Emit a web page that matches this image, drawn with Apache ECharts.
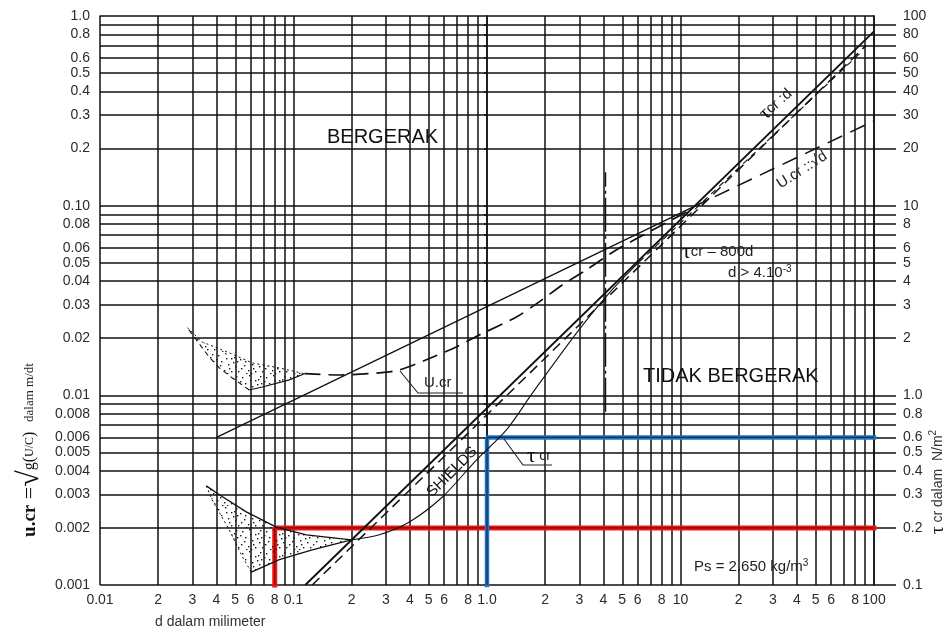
<!DOCTYPE html>
<html>
<head>
<meta charset="utf-8">
<script src="https://cdn.jsdelivr.net/npm/echarts@6/dist/echarts.min.js"></script>
<style>
  html, body { margin: 0; padding: 0; background: #fff; }
  #chart { width: 946px; height: 632px; }
</style>
</head>
<body>
<div id="chart"></div>
<script>
// Grain size d (mm) against critical velocity u.cr (m/s, left) and critical shear stress τcr (N/m², right).
// Both axes are logarithmic; values are kept in natural units and mapped to log10 for the value axes.

// ---- tick labels ----
const xTickValues = [0.01, 0.02, 0.03, 0.04, 0.05, 0.06, 0.08, 0.1, 0.2, 0.3, 0.4, 0.5, 0.6, 0.8,
                     1, 2, 3, 4, 5, 6, 8, 10, 20, 30, 40, 50, 60, 80, 100];
const xTickLabels = ['0.01', '2', '3', '4', '5', '6', '8', '0.1', '2', '3', '4', '5', '6', '8',
                     '1.0', '2', '3', '4', '5', '6', '8', '10', '2', '3', '4', '5', '6', '8', '100'];
const yTickValues = [0.001, 0.002, 0.003, 0.004, 0.005, 0.006, 0.008, 0.01, 0.02, 0.03, 0.04, 0.05,
                     0.06, 0.08, 0.1, 0.2, 0.3, 0.4, 0.5, 0.6, 0.8, 1];
const yLeftLabels = ['0.001', '0.002', '0.003', '0.004', '0.005', '0.006', '0.008', '0.01', '0.02',
                     '0.03', '0.04', '0.05', '0.06', '0.08', '0.10', '0.2', '0.3', '0.4', '0.5', '0.6', '0.8', '1.0'];
const yRightLabels = ['0.1', '0.2', '0.3', '0.4', '0.5', '0.6', '0.8', '1.0', '2', '3', '4', '5', '6',
                      '8', '10', '20', '30', '40', '50', '60', '80', '100'];

// ---- curves: [d (mm), u.cr (m/s)] ----
// τcr = 800 d
const tauLine = [[0.115, 0.001], [100, 0.83]];
// dashed companion of the τcr line
const tauDashed = [[0.125, 0.001], [91, 0.7]];
// Shields curve
const shieldsCurve = [[0.199, 0.00173], [0.278, 0.00184], [0.397, 0.00215], [0.588, 0.00291],
                      [0.881, 0.00456], [1.26, 0.00657], [1.72, 0.0103], [2.9, 0.0213],
                      [4.29, 0.0347], [6.12, 0.0505]];
const shieldsUpper = [[6.12, 0.0505], [86, 0.646]];
// U.cr :: √d
const sqrtLine = [[0.04, 0.006], [11.5, 0.098]];
const sqrtDashed = [[11.5, 0.098], [100, 0.28]];
// U.cr curve
const ucrCurve = [[0.114, 0.0130], [0.1725, 0.0128], [0.268, 0.0131], [0.352, 0.0136], [0.486, 0.0154],
                  [0.694, 0.018], [0.912, 0.0208], [1.42, 0.0259], [1.86, 0.0311], [2.45, 0.0382],
                  [3.26, 0.0458], [4.65, 0.0584], [6.89, 0.0727], [10.7, 0.0927], [11.5, 0.098]];
// limit d > 4.10^-3 m
const dLimit = [[4.1, 0.0082], [4.1, 0.15]];
// scatter bands (outline vertices)
const ucrBand = [[0.0283, 0.0227], [0.0338, 0.0191], [0.0466, 0.01675], [0.0612, 0.01482], [0.0845, 0.01394],
                 [0.114, 0.0130], [0.0951, 0.01206], [0.069, 0.01107], [0.0591, 0.01067], [0.0483, 0.01235],
                 [0.0414, 0.01394], [0.0367, 0.0159]];
const tauBand = [[0.0354, 0.00333], [0.0414, 0.00299], [0.057, 0.00243], [0.0815, 0.00202], [0.1164, 0.00184],
                 [0.199, 0.00173], [0.125, 0.00153], [0.0845, 0.00136], [0.0605, 0.00117], [0.0544, 0.00141],
                 [0.0466, 0.00195], [0.038, 0.00281]];
// worked readings
const redReading = [[0.08, 0.001], [0.08, 0.002], [100, 0.002]];
const blueReading = [[1.0, 0.001], [1.0, 0.006], [100, 0.006]];

// ---- helpers ----
const L = Math.log10;
const toLog = p => [L(p[0]), L(p[1])];
function decadeLines(fromExp, toExp) {
  const out = [];
  for (let e = fromExp; e < toExp; e++) for (let k = 1; k < 10; k++) out.push(L(k) + e);
  return out;
}
const xGrid = decadeLines(-2, 2).concat([2]);
const yGrid = decadeLines(-3, 0);
function labelFor(values, texts) {
  return v => {
    for (let i = 0; i < values.length; i++) if (Math.abs(L(values[i]) - v) < 1e-6) return texts[i];
    return '';
  };
}

const INK = '#111';
const SANS = '"Liberation Sans", Arial, sans-serif';
const SERIF = '"Liberation Serif", "Times New Roman", serif';

// dotted texture for the scatter bands
function stipple() {
  const c = document.createElement('canvas');
  c.width = 24; c.height = 22;
  const g = c.getContext('2d');
  g.fillStyle = '#1a1a1a';
  const dots = [[2, 3], [9, 1], [15, 6], [20, 2], [5, 9], [12, 12], [19, 14], [1, 16], [8, 18], [15, 19],
                [21, 9], [10, 6], [4, 13], [17, 10], [13, 16], [22, 19], [6, 21], [0, 7], [18, 5], [11, 21]];
  dots.forEach(([x, y]) => g.fillRect(x, y, 1.4, 1.4));
  return c;
}
const dotFill = { image: stipple(), repeat: 'repeat' };

function line(pts, opt) {
  return {
    type: 'line', data: pts.map(toLog), symbol: 'none', silent: true,
    smooth: opt.smooth || false, z: opt.z || 4, clip: opt.clip !== false,
    lineStyle: { color: opt.color || INK, width: opt.width || 1.3, type: opt.type || 'solid', cap: opt.cap || 'butt' }
  };
}
function band(pts) {
  return {
    type: 'custom', coordinateSystem: 'cartesian2d', silent: true, z: 3,
    data: pts.map(toLog),
    renderItem(params, api) {
      if (params.dataIndex !== 0) return null;
      return { type: 'polygon', shape: { points: pts.map(p => api.coord(toLog(p))) }, style: { fill: dotFill, stroke: null } };
    }
  };
}
const pick = (arr, idx) => idx.map(i => arr[i]);

const gridLine = { color: INK, width: 1.5 };
const tickFont = { color: '#2b2b2b', fontSize: 14, fontFamily: SANS };

const option = {
  animation: false,
  grid: { left: 100, right: 72, top: 16, bottom: 47, containLabel: false, outerBoundsMode: 'none' },
  xAxis: {
    type: 'value', min: -2, max: 2,
    axisLine: { show: true, lineStyle: gridLine },
    axisTick: { show: true, length: 0, customValues: xGrid, lineStyle: gridLine },
    splitLine: { show: true, lineStyle: gridLine },
    axisLabel: Object.assign({ customValues: xTickValues.map(L), formatter: labelFor(xTickValues, xTickLabels), margin: 8 }, tickFont)
  },
  yAxis: [{
    type: 'value', min: -3, max: 0, position: 'left',
    axisLine: { show: true, lineStyle: gridLine },
    axisTick: { show: true, inside: false, length: 3, customValues: yGrid, lineStyle: gridLine },
    splitLine: { show: true, lineStyle: gridLine },
    axisLabel: Object.assign({ customValues: yTickValues.map(L), formatter: labelFor(yTickValues, yLeftLabels), margin: 10 }, tickFont)
  }, {
    type: 'value', min: -3, max: 0, position: 'right',
    axisLine: { show: true, lineStyle: gridLine },
    axisTick: { show: true, inside: false, length: 22, customValues: yGrid, lineStyle: gridLine },
    splitLine: { show: false },
    axisLabel: Object.assign({ customValues: yTickValues.map(L), formatter: labelFor(yTickValues, yRightLabels), margin: 29 }, tickFont)
  }],
  series: [
    line(redReading, { color: '#f01414', width: 5, cap: 'square', z: 2, clip: false }),
    line(redReading, { color: '#7c0a0a', width: 1.2, z: 2, clip: false }),
    line(blueReading, { color: '#1f74c4', width: 4.5, cap: 'square', z: 2, clip: false }),
    line(blueReading, { color: '#0e2f52', width: 1.2, z: 2, clip: false }),

    band(ucrBand),
    band(tauBand),
    line(pick(ucrBand, [0, 1, 2, 3, 4, 5]), { width: 1, type: [2, 3] }),
    line(pick(ucrBand, [5, 6, 7, 8]), { width: 1.2 }),
    line(pick(ucrBand, [8, 9, 10, 11, 0]), { width: 1.1, type: [5, 4] }),
    line(pick(tauBand, [0, 1, 2, 3, 4, 5]), { width: 1.3 }),
    line(pick(tauBand, [8, 7, 6, 5]), { width: 1.3 }),
    line(pick(tauBand, [0, 11, 10, 9, 8]), { width: 1, type: [2, 3] }),

    line(tauLine, { width: 1.9 }),
    line(tauDashed, { width: 1.5, type: [10, 6] }),
    line(shieldsCurve, { width: 1.1, smooth: 0.3 }),
    line(shieldsUpper, { width: 1.1, type: [6, 5] }),
    line(sqrtLine, { width: 1.3 }),
    line(sqrtDashed, { width: 1.5, type: [16, 9] }),
    line(ucrCurve, { width: 1.7, type: [16, 8], smooth: 0.3 }),
    line(dLimit, { width: 1.3, type: [34, 4, 3, 4] })
  ],
  graphic: [
    { type: 'text', x: 327, y: 137, z: 100, style: { text: 'BERGERAK', font: '20px ' + SANS, fill: '#111', align: 'left', verticalAlign: 'middle' } },
    { type: 'text', x: 643, y: 376, z: 100, style: { text: 'TIDAK BERGERAK', font: '20px ' + SANS, fill: '#111', align: 'left', verticalAlign: 'middle' } },
    { type: 'text', x: 682, y: 252, z: 100, style: {
        text: '{t|τ}{n|cr – 800d}', align: 'left', verticalAlign: 'middle',
        rich: { t: { fontSize: 22, fontFamily: SERIF, fill: '#111' }, n: { fontSize: 15, fontFamily: SANS, fill: '#222' } } } },
    { type: 'text', x: 728, y: 273, z: 100, style: {
        text: '{n|d > 4.10}{s|-3}', align: 'left', verticalAlign: 'middle',
        rich: { n: { fontSize: 15, fontFamily: SANS, fill: '#222', lineHeight: 18 }, s: { fontSize: 10, fontFamily: SANS, fill: '#222', verticalAlign: 'top', lineHeight: 10 } } } },
    { type: 'text', x: 694, y: 567, z: 100, style: {
        text: '{n|Ps = 2.650 kg/m}{s|3}', align: 'left', verticalAlign: 'middle',
        rich: { n: { fontSize: 15, fontFamily: SANS, fill: '#222', lineHeight: 18 }, s: { fontSize: 10, fontFamily: SANS, fill: '#222', verticalAlign: 'top', lineHeight: 10 } } } },
    { type: 'text', x: 452, y: 472, rotation: Math.PI / 4, z: 100, style: { text: 'SHIELDS', font: '15px ' + SANS, fill: '#111', align: 'center', verticalAlign: 'middle' } },
    { type: 'text', x: 776, y: 104, rotation: 0.72, z: 100, style: {
        text: '{t|τ}{n|cr :d}', align: 'center', verticalAlign: 'middle',
        rich: { t: { fontSize: 20, fontFamily: SERIF, fill: '#111' }, n: { fontSize: 15, fontFamily: SANS, fill: '#222' } } } },
    { type: 'text', x: 802, y: 170, rotation: 0.57, z: 100, style: { text: 'U.cr ::√d', font: '15px ' + SANS, fill: '#222', align: 'center', verticalAlign: 'middle' } },

    // U.cr callout
    { type: 'polyline', z: 100, shape: { points: [[400, 371], [418, 393], [463, 393]] }, style: { stroke: '#222', lineWidth: 1.1, fill: null } },
    { type: 'text', x: 424, y: 383, z: 100, style: { text: 'U.cr', font: '15px ' + SANS, fill: '#222', align: 'left', verticalAlign: 'middle' } },
    // τcr callout
    { type: 'polyline', z: 100, shape: { points: [[504, 439], [523, 465], [552, 465]] }, style: { stroke: '#222', lineWidth: 1.1, fill: null } },
    { type: 'text', x: 527, y: 456, z: 100, style: {
        text: '{t|τ}{n| cr}', align: 'left', verticalAlign: 'middle',
        rich: { t: { fontSize: 21, fontFamily: SERIF, fill: '#111' }, n: { fontSize: 14, fontFamily: SANS, fill: '#222' } } } },

    // axis titles
    { type: 'text', x: 155, y: 622, z: 100, style: { text: 'd dalam milimeter', font: '14px ' + SANS, fill: '#333', align: 'left', verticalAlign: 'middle' } },
    { type: 'text', x: 30, y: 450, rotation: Math.PI / 2, z: 100, style: {
        text: '{b|u.cr}{e| =}{r|√}{g|g(}{f|U/C}{g|)}{s|   dalam m/dt}', align: 'center', verticalAlign: 'middle',
        rich: {
          b: { fontSize: 19, fontWeight: 'bold', fontFamily: SERIF, fill: '#111' },
          e: { fontSize: 22, fontFamily: SERIF, fill: '#111' },
          r: { fontSize: 30, fontFamily: SERIF, fill: '#111' },
          g: { fontSize: 16, fontFamily: SERIF, fill: '#111' },
          f: { fontSize: 12, fontFamily: SERIF, fill: '#111' },
          s: { fontSize: 13, fontFamily: SERIF, fill: '#222' }
        } } },
    { type: 'text', x: 938, y: 482, rotation: Math.PI / 2, z: 100, style: {
        text: '{t|τ}{n| cr dalam  N/m}{s|2}', align: 'center', verticalAlign: 'middle',
        rich: {
          t: { fontSize: 19, fontFamily: SERIF, fill: '#111' },
          n: { fontSize: 14, fontFamily: SANS, fill: '#333', lineHeight: 18 },
          s: { fontSize: 10, fontFamily: SANS, fill: '#333', verticalAlign: 'top', lineHeight: 10 }
        } } }
  ]
};

const chart = echarts.init(document.getElementById('chart'), null, { renderer: 'canvas' });
chart.setOption(option);
</script>
</body>
</html>
